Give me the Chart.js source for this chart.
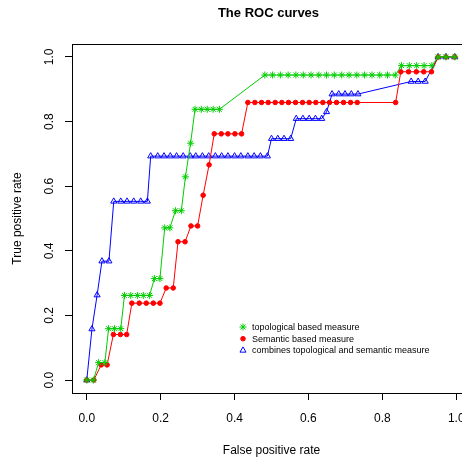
<!DOCTYPE html>
<html>
<head>
<meta charset="utf-8">
<script src="https://cdn.jsdelivr.net/npm/chart.js@4"></script>
<style>
  html, body { margin: 0; padding: 0; background: #fff; overflow: hidden; }
  #wrap { width: 480px; height: 460px; }
</style>
</head>
<body>
<div id="wrap"><canvas id="roc" width="480" height="460"></canvas></div>
<script>
// data (false positive rate / true positive rate)
const topoFpr = [0, 0.018, 0.032, 0.049, 0.059, 0.075, 0.092, 0.102, 0.119, 0.137, 0.153, 0.170, 0.183, 0.198,
  0.211, 0.225, 0.240, 0.256, 0.267, 0.281, 0.293, 0.310, 0.326, 0.342, 0.359,
  0.482, 0.503, 0.524, 0.545, 0.566, 0.586, 0.607, 0.628, 0.649, 0.670, 0.690, 0.710, 0.731, 0.752, 0.772, 0.793, 0.814, 0.835,
  0.852, 0.873, 0.893, 0.913, 0.934, 0.951, 0.972, 0.996];
const topoTpr = [0, 0, 0.054, 0.054, 0.159, 0.159, 0.159, 0.262, 0.262, 0.262, 0.262, 0.262, 0.314, 0.314,
  0.471, 0.471, 0.524, 0.524, 0.629, 0.733, 0.838, 0.838, 0.838, 0.838, 0.838,
  0.944, 0.944, 0.944, 0.944, 0.944, 0.944, 0.944, 0.944, 0.944, 0.944, 0.944, 0.944, 0.944, 0.944, 0.944, 0.944, 0.944, 0.944,
  0.973, 0.973, 0.973, 0.973, 0.973, 1, 1, 1];

const semFpr = [0, 0.019, 0.039, 0.055, 0.072, 0.091, 0.108, 0.122, 0.142, 0.161, 0.180, 0.198, 0.215, 0.234,
  0.247, 0.266, 0.282, 0.300, 0.315, 0.331, 0.345, 0.364, 0.382, 0.401, 0.419,
  0.436, 0.455, 0.473, 0.491, 0.510, 0.528, 0.546, 0.565, 0.584, 0.602, 0.620, 0.639, 0.657, 0.676, 0.695, 0.714, 0.732,
  0.836, 0.850, 0.871, 0.892, 0.912, 0.933, 0.951, 0.972, 0.996];
const semTpr = [0, 0, 0.047, 0.047, 0.141, 0.141, 0.141, 0.238, 0.238, 0.238, 0.238, 0.238, 0.285, 0.285,
  0.428, 0.428, 0.477, 0.477, 0.572, 0.666, 0.762, 0.762, 0.762, 0.762, 0.762,
  0.859, 0.859, 0.859, 0.859, 0.859, 0.859, 0.859, 0.859, 0.859, 0.859, 0.859, 0.859, 0.859, 0.859, 0.859, 0.859, 0.859,
  0.859, 0.954, 0.954, 0.954, 0.954, 0.954, 1, 1, 1];

const combFpr = [0, 0.014, 0.028, 0.041, 0.060, 0.073, 0.092, 0.109, 0.127, 0.146, 0.164,
  0.173, 0.192, 0.209, 0.226, 0.243, 0.261, 0.280, 0.295, 0.313, 0.330, 0.348, 0.365, 0.382, 0.400, 0.417, 0.436, 0.453, 0.470, 0.489,
  0.500, 0.517, 0.534, 0.552, 0.567, 0.585, 0.602, 0.619, 0.636, 0.649,
  0.664, 0.682, 0.699, 0.716, 0.734, 0.878, 0.897, 0.916, 0.951, 0.972, 0.996];
const combTpr = [0, 0.158, 0.263, 0.368, 0.368, 0.553, 0.553, 0.553, 0.553, 0.553, 0.553,
  0.693, 0.693, 0.693, 0.693, 0.693, 0.693, 0.693, 0.693, 0.693, 0.693, 0.693, 0.693, 0.693, 0.693, 0.693, 0.693, 0.693, 0.693, 0.693,
  0.747, 0.747, 0.747, 0.747, 0.809, 0.809, 0.809, 0.809, 0.809, 0.830,
  0.885, 0.885, 0.885, 0.885, 0.885, 0.924, 0.924, 0.924, 1, 1, 1];

const seriesNames = ['topological based measure', 'Semantic based measure', 'combines topological and semantic measure'];
const tickValues = [0, 0.2, 0.4, 0.6, 0.8, 1.0];
const tickLabels = ['0.0', '0.2', '0.4', '0.6', '0.8', '1.0'];

const colors = ['#00CD00', '#FF0000', '#0000FF'];
const styles = ['star', 'circle', 'triangle'];
const FONT = '"Liberation Sans", Arial, sans-serif';

function pts(xs, ys) { return xs.map((x, i) => ({ x: x, y: ys[i] })); }

function mkSet(i, xs, ys) {
  const open = styles[i] !== 'circle';
  return {
    label: seriesNames[i],
    data: pts(xs, ys),
    showLine: true,
    borderColor: colors[i],
    borderWidth: 1,
    pointStyle: styles[i],
    pointRadius: styles[i] === 'circle' ? 2.3 : 3.5,
    pointBorderWidth: 1,
    pointBorderColor: colors[i],
    pointBackgroundColor: open ? 'rgba(0,0,0,0)' : colors[i],
    tension: 0
  };
}

// R-style decorations: full box, titles, rotated y labels, legend without frame
const rDecor = {
  id: 'rDecor',
  afterDraw(chart) {
    const ctx = chart.ctx, a = chart.chartArea;
    const xs = chart.scales.x, ys = chart.scales.y;
    ctx.save();
    ctx.strokeStyle = '#000';
    ctx.lineWidth = 1;
    ctx.strokeRect(a.left + 0.5, a.top + 0.5, a.right - a.left, a.bottom - a.top);

    ctx.fillStyle = '#000';
    ctx.font = '12px ' + FONT;
    ctx.textAlign = 'center';
    ctx.textBaseline = 'middle';
    tickValues.forEach((v, i) => {
      ctx.fillText(tickLabels[i], xs.getPixelForValue(v), 419);
    });
    tickValues.forEach((v, i) => {
      ctx.save();
      ctx.translate(50, ys.getPixelForValue(v));
      ctx.rotate(-Math.PI / 2);
      ctx.fillText(tickLabels[i], 0, 0);
      ctx.restore();
    });

    const cx = (a.left + a.right) / 2;
    ctx.fillText('False positive rate', cx, 451);
    ctx.save();
    ctx.translate(18, (a.top + a.bottom) / 2);
    ctx.rotate(-Math.PI / 2);
    ctx.fillText('True positive rate', 0, 0);
    ctx.restore();

    ctx.font = 'bold 13px ' + FONT;
    ctx.fillText('The ROC curves', cx - 3, 13);

    // legend
    ctx.font = '9px ' + FONT;
    ctx.textAlign = 'left';
    const ly = [327, 338.7, 350.4];
    chart.data.datasets.forEach((ds, i) => {
      ctx.strokeStyle = colors[i];
      ctx.fillStyle = styles[i] === 'circle' ? colors[i] : 'rgba(0,0,0,0)';
      ctx.lineWidth = 1;
      Chart.helpers.drawPoint(ctx, { pointStyle: styles[i], rotation: 0, radius: ds.pointRadius, borderWidth: 1 }, 243, ly[i]);
      ctx.fillStyle = '#000';
      ctx.fillText(ds.label, 252, ly[i] + 0.5);
    });
    ctx.restore();
  }
};

const axisGrid = { display: true, drawOnChartArea: false, drawTicks: true, tickLength: 7, color: '#000', lineWidth: 1 };

new Chart(document.getElementById('roc'), {
  type: 'scatter',
  data: {
    datasets: [mkSet(0, topoFpr, topoTpr), mkSet(1, semFpr, semTpr), mkSet(2, combFpr, combTpr)]
  },
  options: {
    responsive: false,
    animation: false,
    layout: { padding: { top: 44, right: 9, left: 0, bottom: 0 } },
    plugins: { legend: { display: false }, tooltip: { enabled: false } },
    scales: {
      x: {
        type: 'linear', min: -0.04, max: 1.04,
        afterBuildTicks: s => { s.ticks = tickValues.map(v => ({ value: v })); },
        afterFit: s => { s.height = 67; },
        ticks: { display: false },
        grid: axisGrid,
        border: { display: true, color: '#000' }
      },
      y: {
        type: 'linear', min: -0.04, max: 1.04,
        afterBuildTicks: s => { s.ticks = tickValues.map(v => ({ value: v })); },
        afterFit: s => { s.width = 72; },
        ticks: { display: false },
        grid: axisGrid,
        border: { display: true, color: '#000' }
      }
    }
  },
  plugins: [rDecor]
});
</script>
</body>
</html>
